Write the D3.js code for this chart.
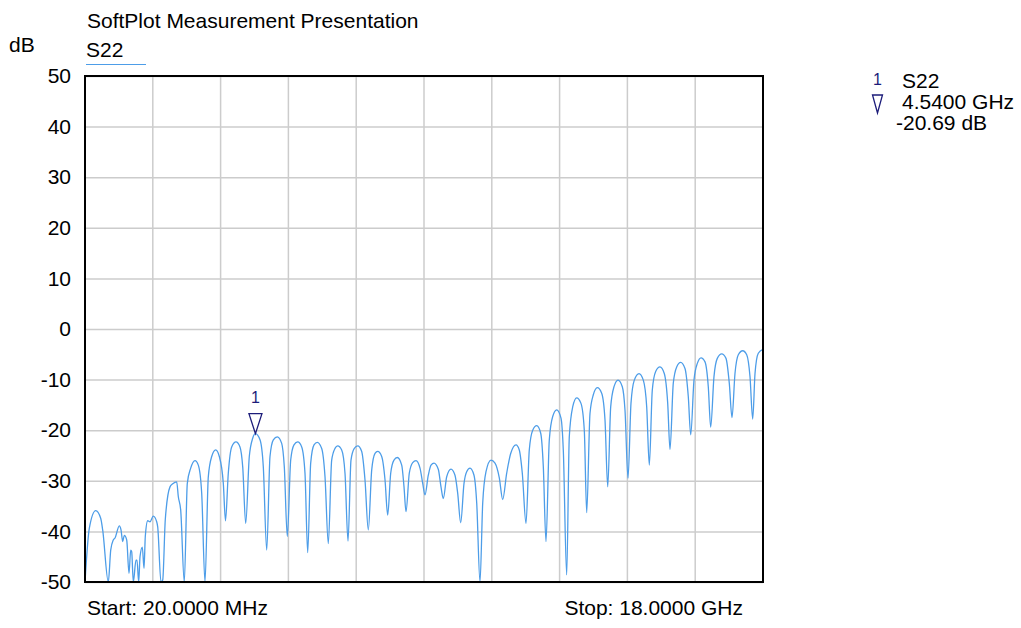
<!DOCTYPE html>
<html>
<head>
<meta charset="utf-8">
<script src="https://cdn.jsdelivr.net/npm/d3@7"></script>
<style>
  body { margin: 0; background: #fff; }
  svg { font-family: "Liberation Sans", Arial, sans-serif; }
</style>
</head>
<body>
<div id="chart"></div>
<script>
// S22 trace, frequency in GHz, level in dB
const freqGHz = [
  0.020, 0.134, 0.304, 0.436, 0.489, 0.638, 0.702, 0.770, 0.816, 0.930,
  0.975, 1.020, 1.062, 1.126, 1.187, 1.232, 1.258, 1.301, 1.372, 1.399,
  1.444, 1.479, 1.540, 1.585, 1.619, 1.683, 1.744, 1.831, 1.921, 1.948,
  2.035, 2.081, 2.149, 2.274, 2.346, 2.452, 2.494, 2.558, 2.653, 2.733,
  2.823, 2.937, 3.025, 3.115, 3.202, 3.290, 3.380, 3.486, 3.582, 3.688,
  3.746, 3.820, 3.910, 4.024, 4.130, 4.202, 4.282, 4.377, 4.467, 4.540,
  4.661, 4.748, 4.839, 4.926, 5.014, 5.120, 5.236, 5.305, 5.385, 5.475,
  5.562, 5.661, 5.767, 5.854, 5.926, 6.005, 6.093, 6.180, 6.297, 6.385,
  6.472, 6.562, 6.650, 6.721, 6.827, 6.915, 6.995, 7.074, 7.162, 7.252,
  7.358, 7.445, 7.533, 7.623, 7.711, 7.782, 7.888, 7.976, 8.047, 8.127,
  8.214, 8.302, 8.419, 8.480, 8.533, 8.620, 8.710, 8.798, 8.904, 8.976,
  9.036, 9.124, 9.196, 9.275, 9.389, 9.461, 9.522, 9.612, 9.726, 9.832,
  9.904, 9.983, 10.071, 10.142, 10.230, 10.336, 10.408, 10.495, 10.567, 10.654,
  10.787, 10.893, 11.007, 11.097, 11.203, 11.309, 11.450, 11.537, 11.617, 11.715,
  11.802, 11.893, 11.999, 12.105, 12.174, 12.245, 12.333, 12.423, 12.529, 12.643,
  12.704, 12.794, 12.863, 12.953, 13.059, 13.173, 13.261, 13.325, 13.412, 13.500,
  13.606, 13.722, 13.810, 13.882, 13.961, 14.049, 14.155, 14.269, 14.340, 14.420,
  14.499, 14.587, 14.712, 14.826, 14.916, 14.985, 15.064, 15.154, 15.268, 15.382,
  15.473, 15.534, 15.621, 15.711, 15.817, 15.931, 16.019, 16.083, 16.170, 16.258,
  16.356, 16.462, 16.549, 16.613, 16.700, 16.788, 16.905, 17.019, 17.106, 17.178,
  17.257, 17.345, 17.462, 17.568, 17.655, 17.727, 17.788, 17.875, 18.000
];
const s22dB = [
  -50.0, -39.4, -35.9, -37.4, -39.7, -50.0, -43.7, -41.7, -41.3, -38.9,
  -39.7, -42.0, -40.8, -41.7, -48.3, -43.7, -44.0, -50.0, -45.7, -45.7,
  -50.0, -45.0, -43.1, -47.3, -41.0, -37.9, -38.1, -37.0, -38.1, -39.1,
  -50.0, -49.6, -37.7, -31.2, -30.6, -30.2, -33.1, -35.8, -50.0, -30.5,
  -27.5, -26.0, -26.9, -32.5, -50.0, -29.2, -25.2, -23.9, -25.2, -30.5,
  -37.9, -28.5, -23.3, -22.3, -23.3, -27.2, -38.4, -25.2, -21.6, -20.69,
  -21.9, -27.2, -43.7, -25.2, -21.9, -21.3, -22.6, -27.2, -41.0, -25.9,
  -22.9, -22.3, -23.3, -28.5, -44.2, -26.5, -22.9, -22.4, -23.6, -29.2,
  -42.4, -25.9, -23.6, -23.1, -23.9, -28.5, -41.9, -25.9, -23.6, -23.1,
  -24.2, -29.8, -39.7, -27.9, -24.6, -24.2, -25.2, -29.8, -36.8, -28.5,
  -25.9, -25.4, -26.9, -31.2, -36.1, -28.5, -26.4, -26.0, -27.5, -30.5,
  -32.8, -28.9, -26.9, -26.5, -27.7, -31.2, -33.5, -29.2, -27.7, -28.9,
  -32.5, -38.3, -30.5, -28.2, -27.5, -28.9, -34.4, -50.0, -34.4, -28.2,
  -25.9, -26.5, -29.4, -33.7, -28.5, -24.6, -22.9, -23.9, -28.5, -38.4,
  -23.9, -20.0, -19.1, -20.6, -27.2, -42.0, -21.9, -17.3, -16.0, -17.6,
  -23.9, -48.6, -21.3, -15.4, -13.6, -14.7, -20.0, -36.3, -16.7, -13.0,
  -11.6, -12.7, -18.0, -31.2, -15.4, -11.4, -10.1, -11.4, -16.0, -29.5,
  -14.7, -10.1, -8.8, -10.1, -15.4, -26.9, -12.1, -8.4, -7.5, -8.8,
  -14.7, -23.8, -10.7, -7.5, -6.6, -7.8, -13.4, -20.9, -10.1, -6.8,
  -5.7, -6.5, -11.4, -19.4, -9.4, -5.8, -4.9, -5.8, -10.7, -17.5,
  -8.8, -5.1, -4.3, -5.1, -9.4, -17.8, -8.8, -4.8, -4.0
];
const yTicks = [50, 40, 30, 20, 10, 0, -10, -20, -30, -40, -50];
const startGHz = 0.02, stopGHz = 18;
const xDivisions = 10;
const markerGHz = 4.54, markerdB = -20.69;

const width = 1021, height = 628;
const margin = { top: 76, right: 258, bottom: 46, left: 85 };
const fontSize = "21px";

const svg = d3.select("#chart").append("svg")
  .attr("width", width)
  .attr("height", height);

const x = d3.scaleLinear()
  .domain([startGHz, stopGHz])
  .range([margin.left, width - margin.right]);
const y = d3.scaleLinear()
  .domain([-50, 50])
  .range([height - margin.bottom, margin.top]);

const traceColor = "#4d9de8";
const markerColor = "#1c1c7a";
const gridColor = "#cccccc";

// grid
const xGrid = d3.range(1, xDivisions).map(i => startGHz + i * (stopGHz - startGHz) / xDivisions);
svg.append("g").selectAll("line")
  .data(xGrid)
  .join("line")
  .attr("x1", d => x(d)).attr("x2", d => x(d))
  .attr("y1", y(50)).attr("y2", y(-50))
  .attr("stroke", gridColor).attr("stroke-width", 1.5);

const yAxis = svg.append("g")
  .attr("transform", `translate(${margin.left},0)`)
  .call(d3.axisLeft(y)
    .tickValues(yTicks)
    .tickSize(-(x.range()[1] - x.range()[0]))
    .tickPadding(14)
    .tickFormat(d => d));
yAxis.select(".domain").remove();
yAxis.selectAll(".tick line").attr("stroke", gridColor).attr("stroke-width", 1.5);
yAxis.selectAll(".tick text")
  .attr("fill", "#000")
  .style("font-size", fontSize)
  .style("font-family", "'Liberation Sans', Arial, sans-serif");

// trace
const data = freqGHz.map((f, i) => ({ f, v: s22dB[i] }));
svg.append("clipPath").attr("id", "plotClip")
  .append("rect")
  .attr("x", x.range()[0]).attr("y", y(50))
  .attr("width", x.range()[1] - x.range()[0])
  .attr("height", y(-50) - y(50));
svg.append("path")
  .datum(data)
  .attr("clip-path", "url(#plotClip)")
  .attr("fill", "none")
  .attr("stroke", traceColor)
  .attr("stroke-width", 1.3)
  .attr("stroke-linejoin", "round")
  .attr("d", d3.line().curve(d3.curveMonotoneX).x(d => x(d.f)).y(d => y(d.v)));

// frame
svg.append("rect")
  .attr("x", x.range()[0]).attr("y", y(50))
  .attr("width", x.range()[1] - x.range()[0])
  .attr("height", y(-50) - y(50))
  .attr("fill", "none")
  .attr("stroke", "#000")
  .attr("stroke-width", 2);

// marker 1
const mx = x(markerGHz), my = y(markerdB);
svg.append("path")
  .attr("d", `M${mx - 6.5},${my - 20} L${mx + 6.5},${my - 20} L${mx},${my} Z`)
  .attr("fill", "none")
  .attr("stroke", markerColor)
  .attr("stroke-width", 1.3);
svg.append("text")
  .attr("x", mx).attr("y", my - 31)
  .attr("text-anchor", "middle")
  .attr("fill", markerColor)
  .style("font-size", "16px")
  .text("1");

// titles
svg.append("text").attr("x", 87).attr("y", 28).style("font-size", fontSize).text("SoftPlot Measurement Presentation");
svg.append("text").attr("x", 9).attr("y", 52).style("font-size", fontSize).text("dB");
svg.append("text").attr("x", 86).attr("y", 57).style("font-size", fontSize).text("S22");
svg.append("line")
  .attr("x1", 86).attr("x2", 146).attr("y1", 64.5).attr("y2", 64.5)
  .attr("stroke", traceColor).attr("stroke-width", 1.2);

svg.append("text").attr("x", 87).attr("y", 615).style("font-size", fontSize).text("Start: 20.0000 MHz");
svg.append("text").attr("x", 743).attr("y", 615).attr("text-anchor", "end").style("font-size", fontSize).text("Stop: 18.0000 GHz");

// marker readout
const legend = svg.append("g");
legend.append("text").attr("x", 877.5).attr("y", 85).attr("text-anchor", "middle")
  .attr("fill", markerColor).style("font-size", "16px").text("1");
legend.append("path")
  .attr("d", "M872.5,95 L882.5,95 L877.5,113 Z")
  .attr("fill", "none").attr("stroke", markerColor).attr("stroke-width", 1.3);
legend.append("text").attr("x", 902).attr("y", 88).style("font-size", fontSize).text("S22");
legend.append("text").attr("x", 902).attr("y", 109).style("font-size", fontSize)
  .text(`${markerGHz.toFixed(4)} GHz`);
legend.append("text").attr("x", 896).attr("y", 130).style("font-size", fontSize)
  .text(`${markerdB.toFixed(2)} dB`);
</script>
</body>
</html>
